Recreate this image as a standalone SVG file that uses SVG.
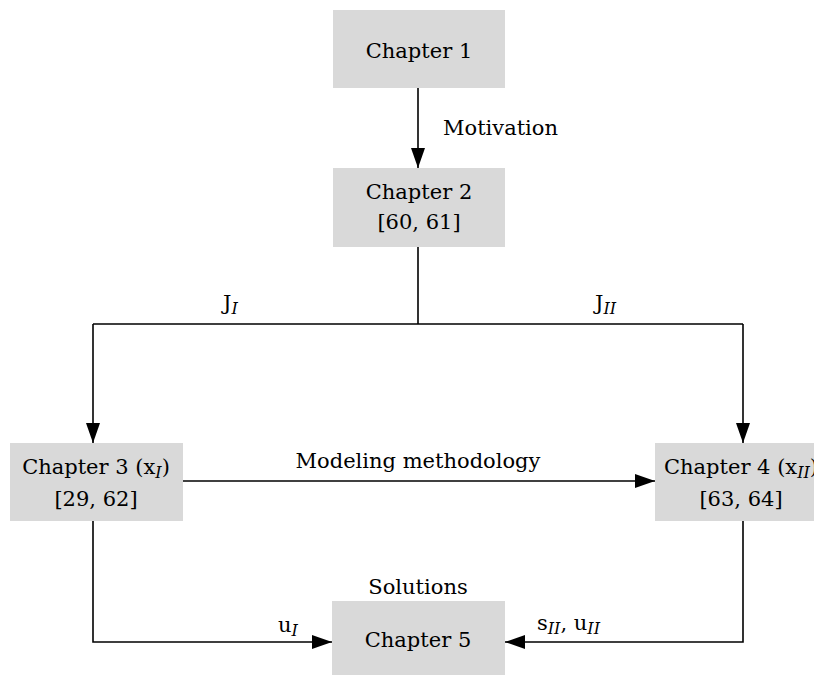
<svg xmlns="http://www.w3.org/2000/svg" width="814" height="675" viewBox="0 0 814 675">
  <defs>
    <marker id="arrow" viewBox="0 0 20 14" refX="20" refY="7" markerWidth="20" markerHeight="14" markerUnits="userSpaceOnUse" orient="auto">
      <path d="M0,0 L20,7 L0,14 Z" fill="#000"/>
    </marker>
  </defs>
  <style>
    .box { fill: #d9d9d9; }
    .c { text-anchor: middle; }
    .sub { font-style: italic; font-size: 16px; }
    .edge { fill: none; stroke: #000; stroke-width: 1.6; }
    .arr { marker-end: url(#arrow); }
  </style>

  <rect width="814" height="675" fill="#fff"/>

  <g font-family="'DejaVu Serif', serif" font-size="21" fill="#000">
  <!-- connectors -->
  <g id="connectors">
    <path class="edge arr" d="M418,88 V168"/>
    <path class="edge" d="M418,247 V324 M93,324 H743"/>
    <path class="edge arr" d="M93,324 V443"/>
    <path class="edge arr" d="M743,324 V443"/>
    <path class="edge arr" d="M183,481 H655"/>
    <path class="edge arr" d="M93,521 V642 H332"/>
    <path class="edge arr" d="M743,521 V642 H505"/>

    <text x="443" y="135">Motivation</text>
    <text x="223" y="310">J<tspan class="sub" dy="4">I</tspan></text>
    <text x="595" y="310">J<tspan class="sub" dy="4">II</tspan></text>
    <text class="c" x="418" y="468">Modeling methodology</text>
    <text class="c" x="418" y="594">Solutions</text>
    <text x="278" y="632">u<tspan class="sub" dy="4">I</tspan></text>
    <text x="537" y="630">s<tspan class="sub" dy="4">II</tspan><tspan dy="-4">, u</tspan><tspan class="sub" dy="4">II</tspan></text>
  </g>

  <!-- nodes -->
  <g id="chapter1">
    <rect class="box" x="333" y="10" width="172" height="78"/>
    <text class="c" x="419" y="58">Chapter 1</text>
  </g>
  <g id="chapter2">
    <rect class="box" x="333" y="168" width="172" height="79"/>
    <text class="c" x="419" y="199">Chapter 2</text>
    <text class="c" x="419" y="229">[60, 61]</text>
  </g>
  <g id="chapter3">
    <rect class="box" x="10" y="443" width="173" height="78"/>
    <text class="c" x="96" y="474">Chapter 3 (x<tspan class="sub" dy="4">I</tspan><tspan dy="-4">)</tspan></text>
    <text class="c" x="96" y="506">[29, 62]</text>
  </g>
  <g id="chapter4">
    <rect class="box" x="655" y="443" width="172" height="78"/>
    <text class="c" x="741" y="474">Chapter 4 (x<tspan class="sub" dy="4">II</tspan><tspan dy="-4">)</tspan></text>
    <text class="c" x="741" y="506">[63, 64]</text>
  </g>
  <g id="chapter5">
    <rect class="box" x="332" y="601" width="173" height="78"/>
    <text class="c" x="418" y="647">Chapter 5</text>
  </g>
  </g>
</svg>
